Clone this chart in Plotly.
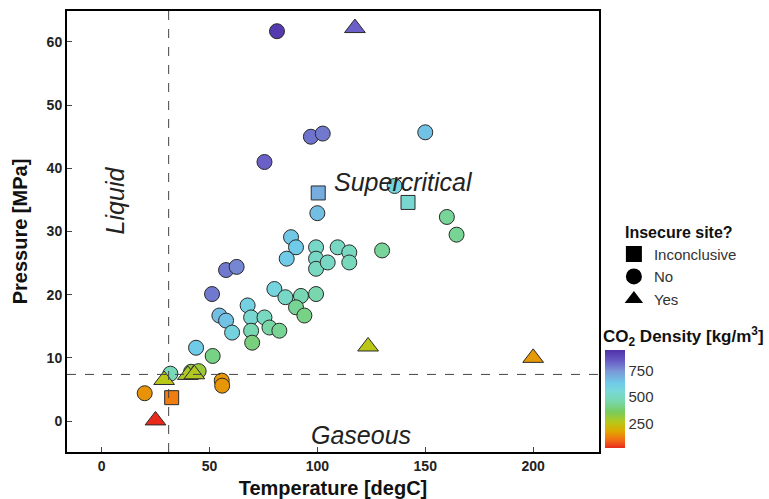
import plotly.graph_objects as go

# ---- data ----
sq_T = [100.4, 142.0, 32.5]
sq_P = [36.1, 34.6, 3.7]
sq_D = [700, 540, 120]

tri_T = [117.4, 123.5, 200.0, 29.0, 40.0, 43.0, 25.0]
tri_P = [62.2, 11.8, 10.0, 6.5, 7.3, 7.4, 0.1]
tri_D = [830, 260, 160, 260, 280, 275, 20]

cir_T = [81.3, 97.0, 102.5, 150.0, 75.5, 135.8, 100.0, 160.0, 164.5, 130.0,
         87.8, 90.1, 85.8, 99.4, 99.4, 99.4, 104.8, 109.4, 114.8, 114.8,
         57.7, 62.6, 51.2, 80.1, 85.2, 92.4, 99.4, 90.1, 94.0,
         67.7, 54.6, 57.7, 60.5, 69.3, 75.5, 77.8, 82.4, 69.3, 69.8,
         43.8, 51.5, 31.9, 41.5, 45.0, 55.7, 55.9, 20.0]
cir_P = [61.7, 45.0, 45.5, 45.7, 41.0, 37.2, 32.9, 32.3, 29.5, 27.0,
         29.1, 27.5, 25.7, 27.5, 25.7, 24.1, 25.1, 27.5, 26.7, 25.1,
         23.9, 24.4, 20.1, 20.9, 19.6, 19.8, 20.1, 18.0, 16.7,
         18.3, 16.7, 15.9, 14.0, 16.4, 16.4, 14.8, 14.3, 14.3, 12.4,
         11.6, 10.3, 7.5, 7.8, 7.9, 6.4, 5.6, 4.4]
cir_D = [920, 800, 790, 650, 830, 580, 660, 435, 430, 435,
         640, 630, 630, 520, 515, 505, 510, 510, 500, 490,
         790, 770, 790, 580, 520, 470, 460, 430, 410,
         600, 660, 650, 590, 540, 500, 450, 430, 470, 400,
         630, 410, 480, 320, 310, 155, 155, 150]

cbar_ticks = [250, 500, 750]
T_crit = 31.1
P_crit = 7.38

FONT = "Liberation Sans, Arial, sans-serif"

colorscale = [
    [0.00, "#e82a1c"],
    [0.05, "#f05418"],
    [0.10, "#f07a10"],
    [0.17, "#e0a800"],
    [0.26, "#b8c818"],
    [0.37, "#78cc60"],
    [0.48, "#78d8b0"],
    [0.58, "#78d8d8"],
    [0.66, "#70cce8"],
    [0.78, "#7a9ad8"],
    [0.88, "#6a60c8"],
    [1.00, "#5030a8"],
]

fig = go.Figure()

line = dict(color="#2a2a2a", width=1)
fig.add_trace(go.Scatter(x=cir_T, y=cir_P, mode="markers", showlegend=False,
                         marker=dict(symbol="circle", size=15, color=cir_D,
                                     coloraxis="coloraxis", line=line)))
fig.add_trace(go.Scatter(x=sq_T, y=sq_P, mode="markers", showlegend=False,
                         marker=dict(symbol="square", size=14, color=sq_D,
                                     coloraxis="coloraxis", line=line)))
fig.add_trace(go.Scatter(x=tri_T, y=tri_P, mode="markers", showlegend=False,
                         marker=dict(symbol="triangle-up", size=18, color=tri_D,
                                     coloraxis="coloraxis", line=line)))

# legend-only entries (black symbols)
for name, sym, sz in [("Inconclusive", "square", 16), ("No", "circle", 17), ("Yes", "triangle-up", 19)]:
    fig.add_trace(go.Scatter(x=[None], y=[None], mode="markers", name=name,
                             marker=dict(symbol=sym, size=sz, color="black")))

fig.add_shape(type="line", x0=T_crit, x1=T_crit, y0=0, y1=1, xref="x", yref="paper",
              line=dict(color="#444", width=1, dash="dash"))
fig.add_shape(type="line", x0=0, x1=1, y0=P_crit, y1=P_crit, xref="paper", yref="y",
              line=dict(color="#444", width=1, dash="dash"))

fig.add_annotation(x=6, y=35, text="<i>Liquid</i>", showarrow=False, textangle=-90,
                   font=dict(family=FONT, size=25, color="#222"))
fig.add_annotation(x=140, y=37.8, text="<i>Supercritical</i>", showarrow=False,
                   font=dict(family=FONT, size=25, color="#222"))
fig.add_annotation(x=120, y=-2.2, text="<i>Gaseous</i>", showarrow=False,
                   font=dict(family=FONT, size=25, color="#222"))
fig.add_annotation(x=1.004, y=0.263, xref="paper", yref="paper", xanchor="left", yanchor="middle",
                   text="<b>CO<sub>2</sub> Density [kg/m<sup>3</sup>]</b>", showarrow=False,
                   font=dict(family=FONT, size=17, color="#111"))
fig.add_annotation(x=1.046, y=0.497, xref="paper", yref="paper", xanchor="left", yanchor="middle",
                   text="<b>Insecure site?</b>", showarrow=False,
                   font=dict(family=FONT, size=16, color="#111"))

fig.update_layout(
    width=769, height=499,
    margin=dict(l=67, r=170, t=11, b=47, autoexpand=False),
    paper_bgcolor="white", plot_bgcolor="white",
    font=dict(family=FONT, color="#222"),
    coloraxis=dict(
        colorscale=colorscale, cmin=25, cmax=940,
        colorbar=dict(
            x=1.011, xanchor="left", y=0.009, yanchor="bottom",
            len=0.222, lenmode="fraction", thickness=20,
            xpad=0, ypad=0, outlinewidth=0,
            tickvals=cbar_ticks, ticks="", ticklabelposition="outside",
            tickfont=dict(family=FONT, size=15, color="#333"),
        ),
    ),
    legend=dict(
        x=1.028, xanchor="left", y=0.486, yanchor="top",
        font=dict(family=FONT, size=15, color="#333"),
        itemsizing="trace", tracegroupgap=0,
        bgcolor="rgba(0,0,0,0)",
    ),
    xaxis=dict(
        range=[-16, 230.5], tickvals=[0, 50, 100, 150, 200], automargin=False,
        ticks="inside", ticklen=5, tickcolor="#444",
        showgrid=False, zeroline=False,
        showline=True, linecolor="black", linewidth=2, mirror=True,
        tickfont=dict(family=FONT, size=14, color="#222", weight="bold"),
        title=dict(text="<b>Temperature [degC]</b>", standoff=10,
                   font=dict(family=FONT, size=20, color="#111")),
    ),
    yaxis=dict(
        range=[-4.9, 64.9], tickvals=[0, 10, 20, 30, 40, 50, 60], automargin=False,
        ticks="inside", ticklen=5, tickcolor="#444",
        showgrid=False, zeroline=False,
        showline=True, linecolor="black", linewidth=2, mirror=True,
        tickfont=dict(family=FONT, size=14, color="#222", weight="bold"),
        title=dict(text="<b>Pressure [MPa]</b>", standoff=14,
                   font=dict(family=FONT, size=20, color="#111")),
    ),
)

fig.write_html("out.html", config={"displayModeBar": False},
               post_script="document.body.style.margin='0';")
